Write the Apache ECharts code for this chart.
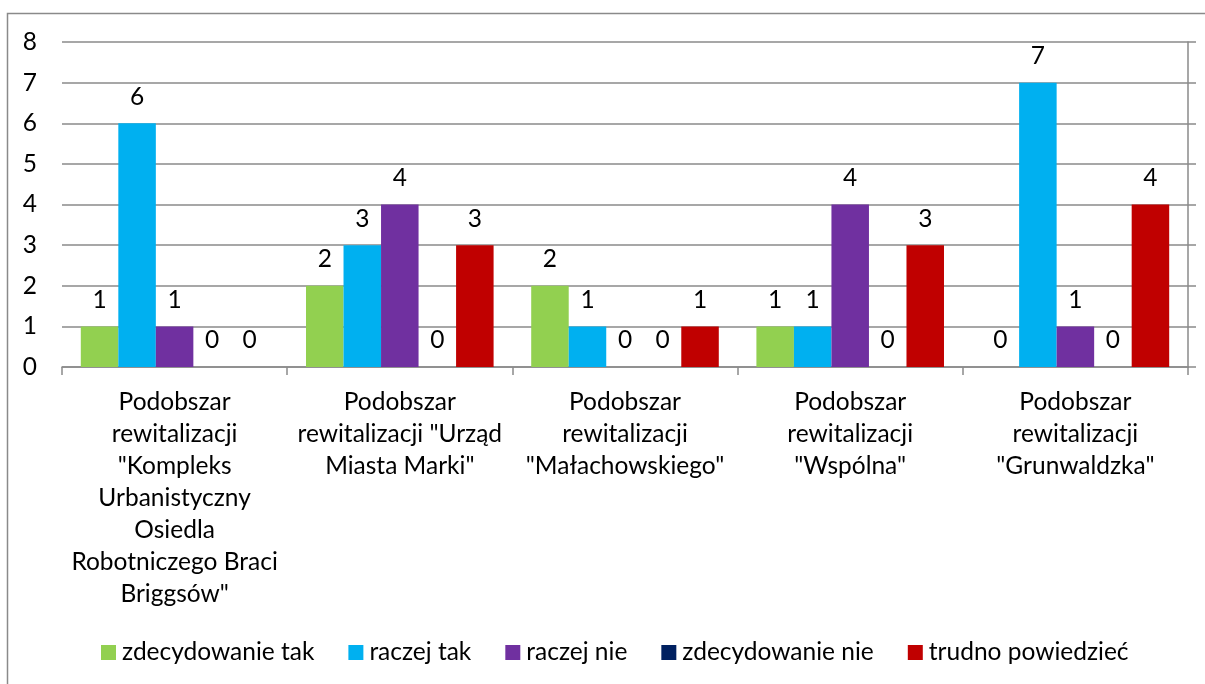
<!DOCTYPE html>
<html><head><meta charset="utf-8">
<script src="https://cdn.jsdelivr.net/npm/echarts@6/dist/echarts.min.js"></script>
<style>html,body{margin:0;padding:0;background:#fff}#c{width:1205px;height:684px}</style>
</head><body><div id="c"></div>
<script>
const categories = [
  'Podobszar\nrewitalizacji\n"Kompleks\nUrbanistyczny\nOsiedla\nRobotniczego Braci\nBriggsów"',
  'Podobszar\nrewitalizacji "Urząd\nMiasta Marki"',
  'Podobszar\nrewitalizacji\n"Małachowskiego"',
  'Podobszar\nrewitalizacji\n"Wspólna"',
  'Podobszar\nrewitalizacji\n"Grunwaldzka"'
];
const seriesNames = ['zdecydowanie tak','raczej tak','raczej nie','zdecydowanie nie','trudno powiedzieć'];
const zdecydowanieTak = [1,2,2,1,0];
const raczejTak = [6,3,1,1,7];
const raczejNie = [1,4,0,4,1];
const zdecydowanieNie = [0,0,0,0,0];
const trudnoPowiedziec = [0,3,1,3,4];
const colors = ['#92d050','#00b0f0','#7030a0','#002060','#c00000'];
const yTicks = [0,1,2,3,4,5,6,7,8];

const values = [zdecydowanieTak, raczejTak, raczejNie, zdecydowanieNie, trudnoPowiedziec];
const FONT = 'Lato';
const FS = 24.5;
const chart = echarts.init(document.getElementById('c'), null, {renderer:'canvas'});
chart.setOption({
  animation:false,
  textStyle:{fontFamily:FONT},
  graphic:[
    {type:'polyline', shape:{points:[[7.5,684],[7.5,13.5],[1205,13.5]]}, style:{stroke:'#8a8a8a', lineWidth:1.5, fill:null}}
  ],
  grid:{left:62, right:17, top:42, bottom:317, containLabel:false},
  legend:{
    top:635, left:96,
    itemWidth:15, itemHeight:15, itemGap:34, icon:'rect',
    textStyle:{fontFamily:FONT, fontSize:FS, color:'#000', padding:[0,0,0,1]},
    data:seriesNames
  },
  xAxis:{
    type:'category', data:categories,
    axisLine:{lineStyle:{color:'#8a8a8a', width:1.5}},
    axisTick:{show:true, length:8, lineStyle:{color:'#8a8a8a', width:1.5}},
    axisLabel:{fontFamily:FONT, fontSize:FS, color:'#000', lineHeight:32, margin:19, interval:0}
  },
  yAxis:[{
    type:'value', min:0, max:8, interval:1,
    axisLine:{show:false}, axisTick:{show:false},
    splitLine:{lineStyle:{color:'#8a8a8a', width:1.5}},
    axisLabel:{fontFamily:FONT, fontSize:FS, color:'#000', margin:25,
      formatter:function(v){return yTicks.indexOf(v)>=0?String(v):'';}}
  },{
    type:'value', min:0, max:8, interval:1, position:'right',
    axisLine:{show:true, lineStyle:{color:'#8a8a8a', width:1.5}},
    axisTick:{show:true, length:8, inside:false, lineStyle:{color:'#8a8a8a', width:1.5}},
    axisLabel:{show:false}, splitLine:{show:false}
  }],
  series: seriesNames.map(function(n,i){
    return {
      name:n, type:'bar', data:values[i], yAxisIndex:0,
      barGap:'0%', barCategoryGap:'16.7%',
      itemStyle:{color:colors[i]},
      label:{show:true, position:'top', distance:14, fontFamily:FONT, fontSize:FS, color:'#000'}
    };
  })
});
</script></body></html>
